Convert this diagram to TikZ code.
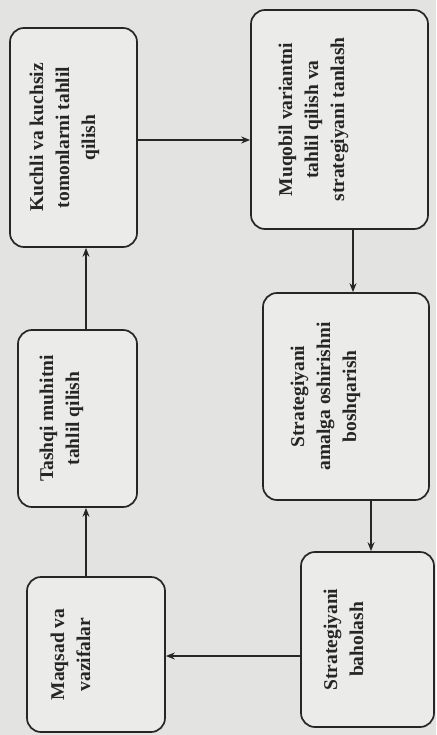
\documentclass[tikz,border=0pt]{standalone}
\usepackage{fontspec}
\setmainfont{Liberation Serif}
\usepackage{graphicx}
\usetikzlibrary{arrows.meta}
\definecolor{paper}{HTML}{E3E3E1}
\definecolor{boxfill}{HTML}{EBEBE9}
\definecolor{ink}{HTML}{262626}
\newcommand{\vtext}[1]{\rotatebox{90}{\begin{tabular}{@{}c@{}}#1\end{tabular}}}

\begin{document}
\begin{tikzpicture}[x=1pt,y=-1pt,
  box/.style={draw=ink, line width=1.7pt, rounded corners=14pt, fill=boxfill, inner sep=0pt,
    text=ink, font=\fontsize{19.5}{26}\selectfont\bfseries},
  arr/.style={draw=ink, line width=1.3pt, -{Stealth[length=9pt,width=7pt]}}]
\fill[paper] (0,0) rectangle (436,735);
\useasboundingbox (0,0) rectangle (436,735);
\node[box, minimum width=127pt, minimum height=219pt] (K) at (73.5,137.5) {\vtext{Kuchli va kuchsiz\\tomonlarni tahlil\\qilish}\hspace*{19pt}};
\node[box, minimum width=119pt, minimum height=177pt] (T) at (77.5,418.5) {\vtext{Tashqi muhitni\\tahlil qilish}\hspace*{33pt}};
\node[box, minimum width=138pt, minimum height=155pt] (Mq) at (96,654.5) {\vtext{Maqsad va\\vazifalar}\hspace*{48pt}};
\node[box, minimum width=177pt, minimum height=219pt] (Mu) at (339.5,119.5) {\vtext{Muqobil variantni\\tahlil qilish va\\strategiyani tanlash}\hspace*{53pt}};
\node[box, minimum width=166pt, minimum height=207pt] (A) at (346,396.5) {\vtext{Strategiyani\\amalga oshirishni\\boshqarish}\hspace*{42pt}};
\node[box, minimum width=133pt, minimum height=175pt] (B) at (367.5,639.5) {\vtext{Strategiyani\\baholash}\hspace*{45pt}};
\coordinate (lc) at (86,0);
\coordinate (rc1) at (353,0);
\coordinate (rc2) at (371,0);
\coordinate (tr) at (0,140);
\coordinate (br) at (0,656);
\draw[arr] (Mq.north -| lc) -- (T.south -| lc);
\draw[arr] (T.north -| lc) -- (K.south -| lc);
\draw[arr] (K.east |- tr) -- (Mu.west |- tr);
\draw[arr] (Mu.south -| rc1) -- (A.north -| rc1);
\draw[arr] (A.south -| rc2) -- (B.north -| rc2);
\draw[arr] (B.west |- br) -- (Mq.east |- br);
\end{tikzpicture}
\end{document}
